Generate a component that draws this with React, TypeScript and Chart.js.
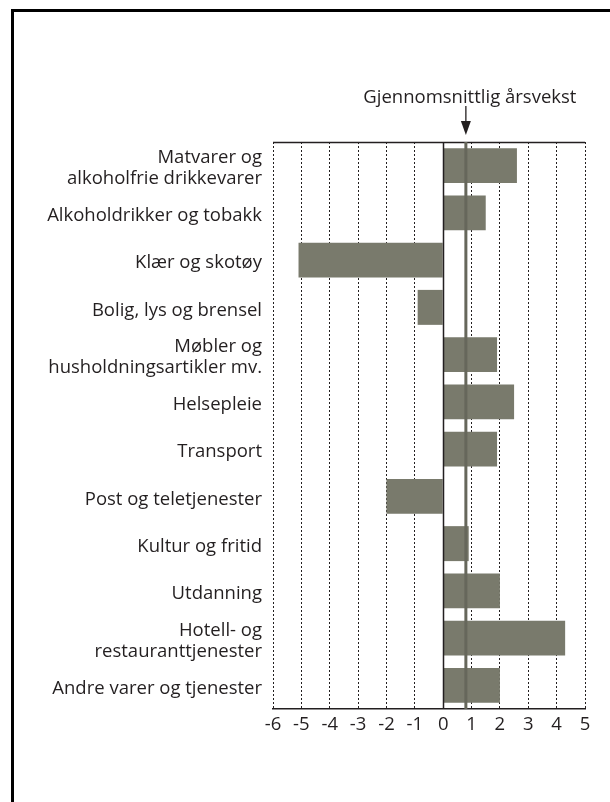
import React, { useEffect, useRef } from "react";
import { Chart, registerables } from "chart.js";

Chart.register(...registerables);

const categories: (string | string[])[] = [
  ["Matvarer og", "alkoholfrie drikkevarer"],
  "Alkoholdrikker og tobakk",
  "Klær og skotøy",
  "Bolig, lys og brensel",
  ["Møbler og", "husholdningsartikler mv."],
  "Helsepleie",
  "Transport",
  "Post og teletjenester",
  "Kultur og fritid",
  "Utdanning",
  ["Hotell- og", "restauranttjenester"],
  "Andre varer og tjenester",
];
const growthValues = [2.6, 1.5, -5.1, -0.9, 1.9, 2.5, 1.9, -2.0, 0.9, 2.0, 4.3, 2.0];
const averageGrowth = 0.8;
const averageLabel = "Gjennomsnittlig årsvekst";
const xMin = -6;
const xMax = 5;

const FONT = "'Open Sans', 'Noto Sans', sans-serif";
const TEXT = "#231f20";

export default function App() {
  const ref = useRef<HTMLCanvasElement | null>(null);

  useEffect(() => {
    if (!ref.current) return;
    const overlay = {
      id: "overlay",
      afterDatasetsDraw(chart: any) {
        const ctx = chart.ctx;
        const xs = chart.scales.x;
        const a = chart.chartArea;
        ctx.save();
        // zero line
        const x0 = Math.round(xs.getPixelForValue(0)) + 0.5;
        ctx.strokeStyle = TEXT;
        ctx.lineWidth = 1.5;
        ctx.beginPath();
        ctx.moveTo(x0, a.top);
        ctx.lineTo(x0, a.bottom);
        ctx.stroke();
        // top line
        ctx.beginPath();
        ctx.moveTo(a.left, a.top + 0.5);
        ctx.lineTo(a.right, a.top + 0.5);
        ctx.stroke();
        // average line
        const xa = xs.getPixelForValue(averageGrowth);
        ctx.strokeStyle = "#66675b";
        ctx.lineWidth = 3;
        ctx.beginPath();
        ctx.moveTo(xa, a.top);
        ctx.lineTo(xa, a.bottom);
        ctx.stroke();
        // title
        ctx.fillStyle = TEXT;
        ctx.font = `18.5px ${FONT}`;
        ctx.textAlign = "center";
        ctx.textBaseline = "middle";
        ctx.fillText(averageLabel, xa + 4, a.top - 44);
        // arrow
        ctx.strokeStyle = TEXT;
        ctx.lineWidth = 1.3;
        ctx.beginPath();
        ctx.moveTo(xa, a.top - 36);
        ctx.lineTo(xa, a.top - 14);
        ctx.stroke();
        ctx.beginPath();
        ctx.moveTo(xa - 5, a.top - 21);
        ctx.lineTo(xa + 5, a.top - 21);
        ctx.lineTo(xa, a.top - 7);
        ctx.closePath();
        ctx.fill();
        ctx.restore();
      },
    };

    const chart = new Chart(ref.current, {
      type: "bar",
      data: {
        labels: categories,
        datasets: [
          {
            data: growthValues,
            backgroundColor: "#797a6c",
            borderWidth: 0,
            barPercentage: 0.74,
            categoryPercentage: 1,
          },
        ],
      },
      options: {
        indexAxis: "y",
        responsive: false,
        animation: false,
        layout: { padding: { left: 0, right: 25, top: 142, bottom: 63 } },
        plugins: { legend: { display: false }, tooltip: { enabled: false } },
        scales: {
          x: {
            type: "linear",
            min: xMin,
            max: xMax,
            ticks: {
              stepSize: 1,
              color: TEXT,
              padding: 5,
              font: { family: FONT, size: 18.5 },
            },
            grid: {
              color: TEXT,
              lineWidth: 1,
              drawTicks: false,
            },
            border: { display: true, color: TEXT, width: 1.5, dash: [2, 2] },
            afterFit: (s: any) => {
              s.height = 30;
            },
          },
          y: {
            ticks: {
              color: TEXT,
              padding: 11,
              labelOffset: 3,
              font: { family: FONT, size: 18.5, lineHeight: 1.14 },
            },
            grid: { display: false, drawTicks: false },
            border: { display: false },
            afterFit: (s: any) => {
              s.width = 273;
            },
          },
        },
      },
      plugins: [overlay],
    });
    return () => chart.destroy();
  }, []);

  return (
    <div style={{ position: "absolute", left: 0, top: 0, width: 610, height: 802, overflow: "hidden", background: "#fff" }}>
      <div
        style={{
          position: "absolute",
          left: 11,
          top: 9,
          width: 800,
          height: 1000,
          borderLeft: "3px solid #000",
          borderTop: "3px solid #000",
        }}
      />
      <canvas ref={ref} width={610} height={802} style={{ position: "absolute", left: 0, top: 0 }} />
    </div>
  );
}
